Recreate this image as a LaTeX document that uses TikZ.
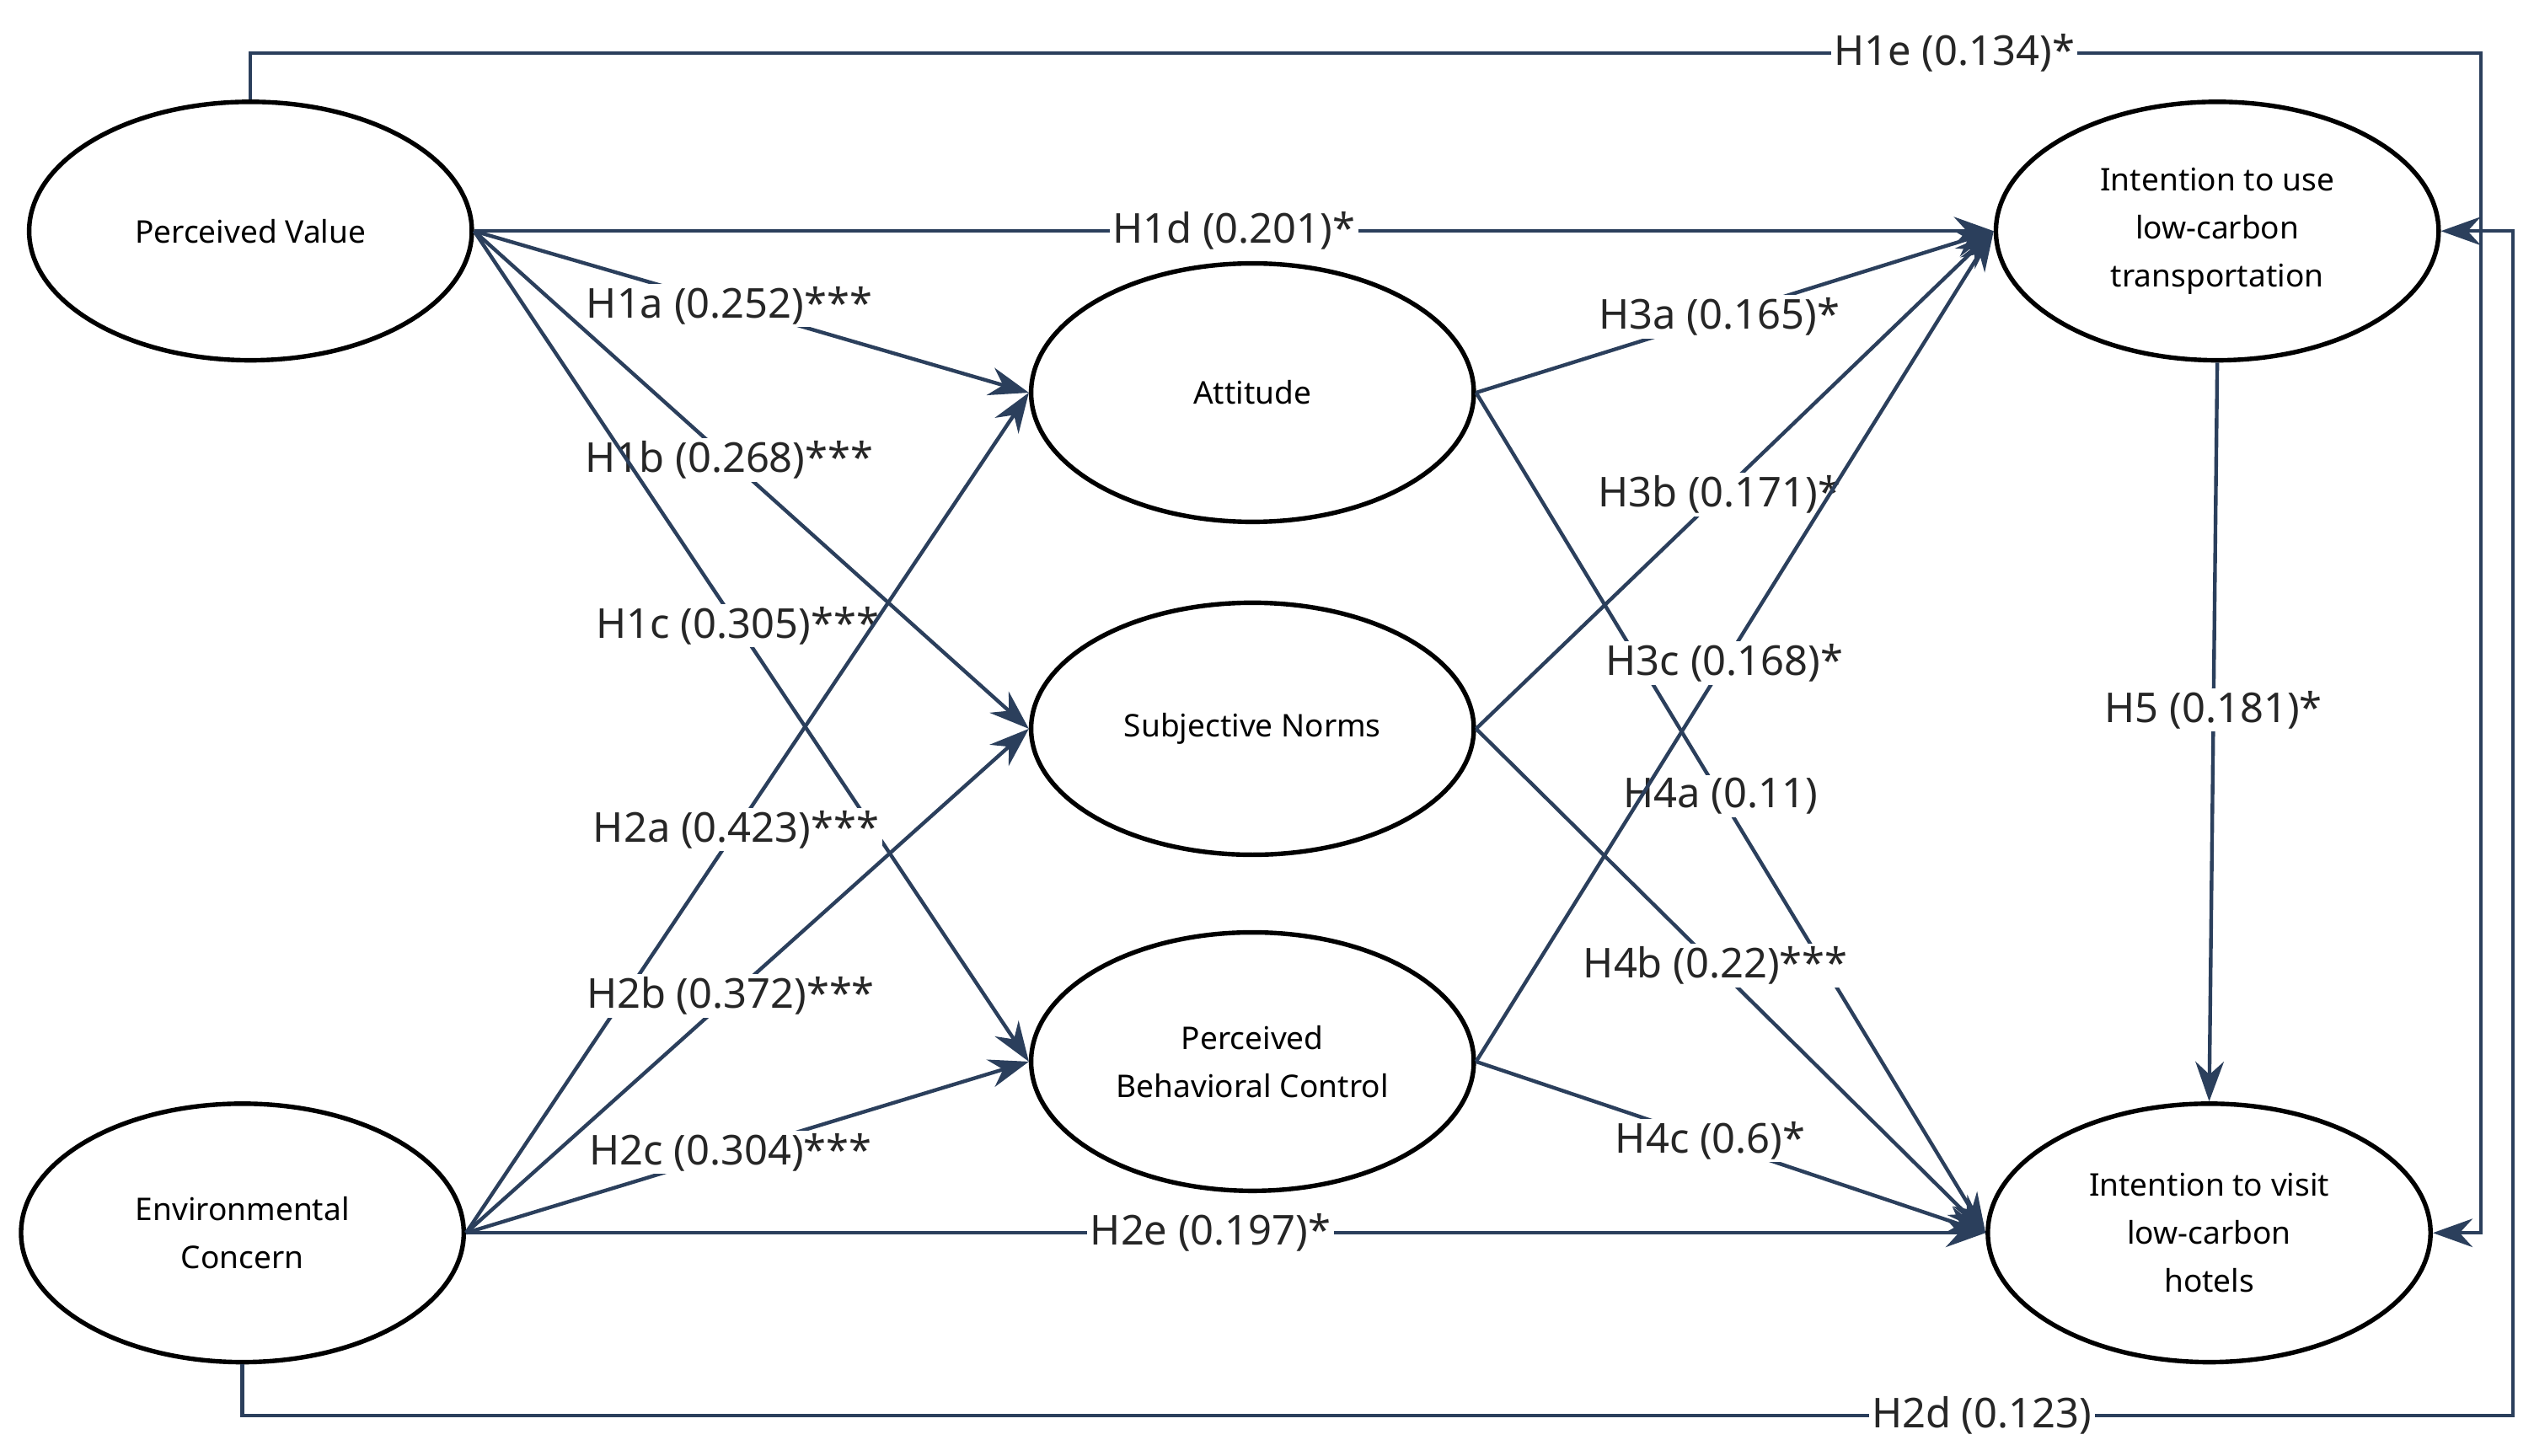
\documentclass[tikz,border=0pt]{standalone}
\usepackage{fontspec}
\setmainfont{Noto Sans}
\usetikzlibrary{shapes.geometric,arrows.meta}
\begin{document}
\begin{tikzpicture}[x=0.02cm,y=-0.02cm,
  el/.style={draw=black,line width=1.6pt,ellipse,minimum width=274\pgflinewidth*0+5.48cm,minimum height=3.2cm,align=center,font=\fontsize{11}{17}\selectfont,fill=white},
  ar/.style={draw=arc,line width=1.3pt,-{Stealth[length=14pt,width=10pt]}},
  lb/.style={fill=white,inner sep=1pt,font=\fontsize{14.5}{17}\selectfont,text=black!85}]
\definecolor{arc}{HTML}{2B3F5C}
\useasboundingbox (0,0) rectangle (1568,901);
\node[el] (pv) at (155,143) {Perceived Value};
\node[el] (ec) at (150,763) {Environmental\\Concern};
\node[el] (at) at (775,243) {Attitude};
\node[el,minimum height=3.12cm] (sn) at (775,451) {Subjective Norms};
\node[el] (pbc) at (775,657) {Perceived\\Behavioral Control};
\node[el] (it) at (1372,143) {Intention to use\\low-carbon\\transportation};
\node[el] (ih) at (1367,763) {Intention to visit\\low-carbon\\hotels};
\coordinate (c1) at (155,33); \coordinate (c2) at (1535,33); \coordinate (c3) at (1535,763);
\coordinate (d1) at (150,876); \coordinate (d2) at (1555,876); \coordinate (d3) at (1555,143);
\draw[ar] (pv.north) -- (c1) -- node[lb,pos=0.764]{H1e (0.134)*} (c2) -- (c3) -- (ih.east);
\draw[ar] (ec.south) -- (d1) -- node[lb,pos=0.766]{H2d (0.123)} (d2) -- (d3) -- (it.east);
\draw[ar] (pv.east) -- node[lb,pos=0.50]{H1d (0.201)*} (it.west);
\draw[ar] (ec.east) -- node[lb,pos=0.49]{H2e (0.197)*} (ih.west);
\draw[ar] (pv.east) -- node[lb,pos=0.46]{H1a (0.252)***} (at.west);
\draw[ar] (pv.east) -- node[lb,pos=0.46]{H1b (0.268)***} (sn.west);
\draw[ar] (pv.east) -- node[lb,pos=0.475]{H1c (0.305)***} (pbc.west);
\draw[ar] (ec.east) -- node[lb,pos=0.48]{H2a (0.423)***} (at.west);
\draw[ar] (ec.east) -- node[lb,pos=0.47]{H2b (0.372)***} (sn.west);
\draw[ar] (ec.east) -- node[lb,pos=0.47]{H2c (0.304)***} (pbc.west);
\draw[ar] (at.east) -- node[lb,pos=0.47]{H3a (0.165)*} (it.west);
\draw[ar] (at.east) -- node[lb,pos=0.48]{H4a (0.11)} (ih.west);
\draw[ar] (sn.east) -- node[lb,pos=0.47]{H3b (0.171)*} (it.west);
\draw[ar] (sn.east) -- node[lb,pos=0.47]{H4b (0.22)***} (ih.west);
\draw[ar] (pbc.east) -- node[lb,pos=0.48]{H3c (0.168)*} (it.west);
\draw[ar] (pbc.east) -- node[lb,pos=0.46]{H4c (0.6)*} (ih.west);
\draw[ar] (it.south) -- node[lb,pos=0.47]{H5 (0.181)*} (ih.north);
\end{tikzpicture}
\end{document}
